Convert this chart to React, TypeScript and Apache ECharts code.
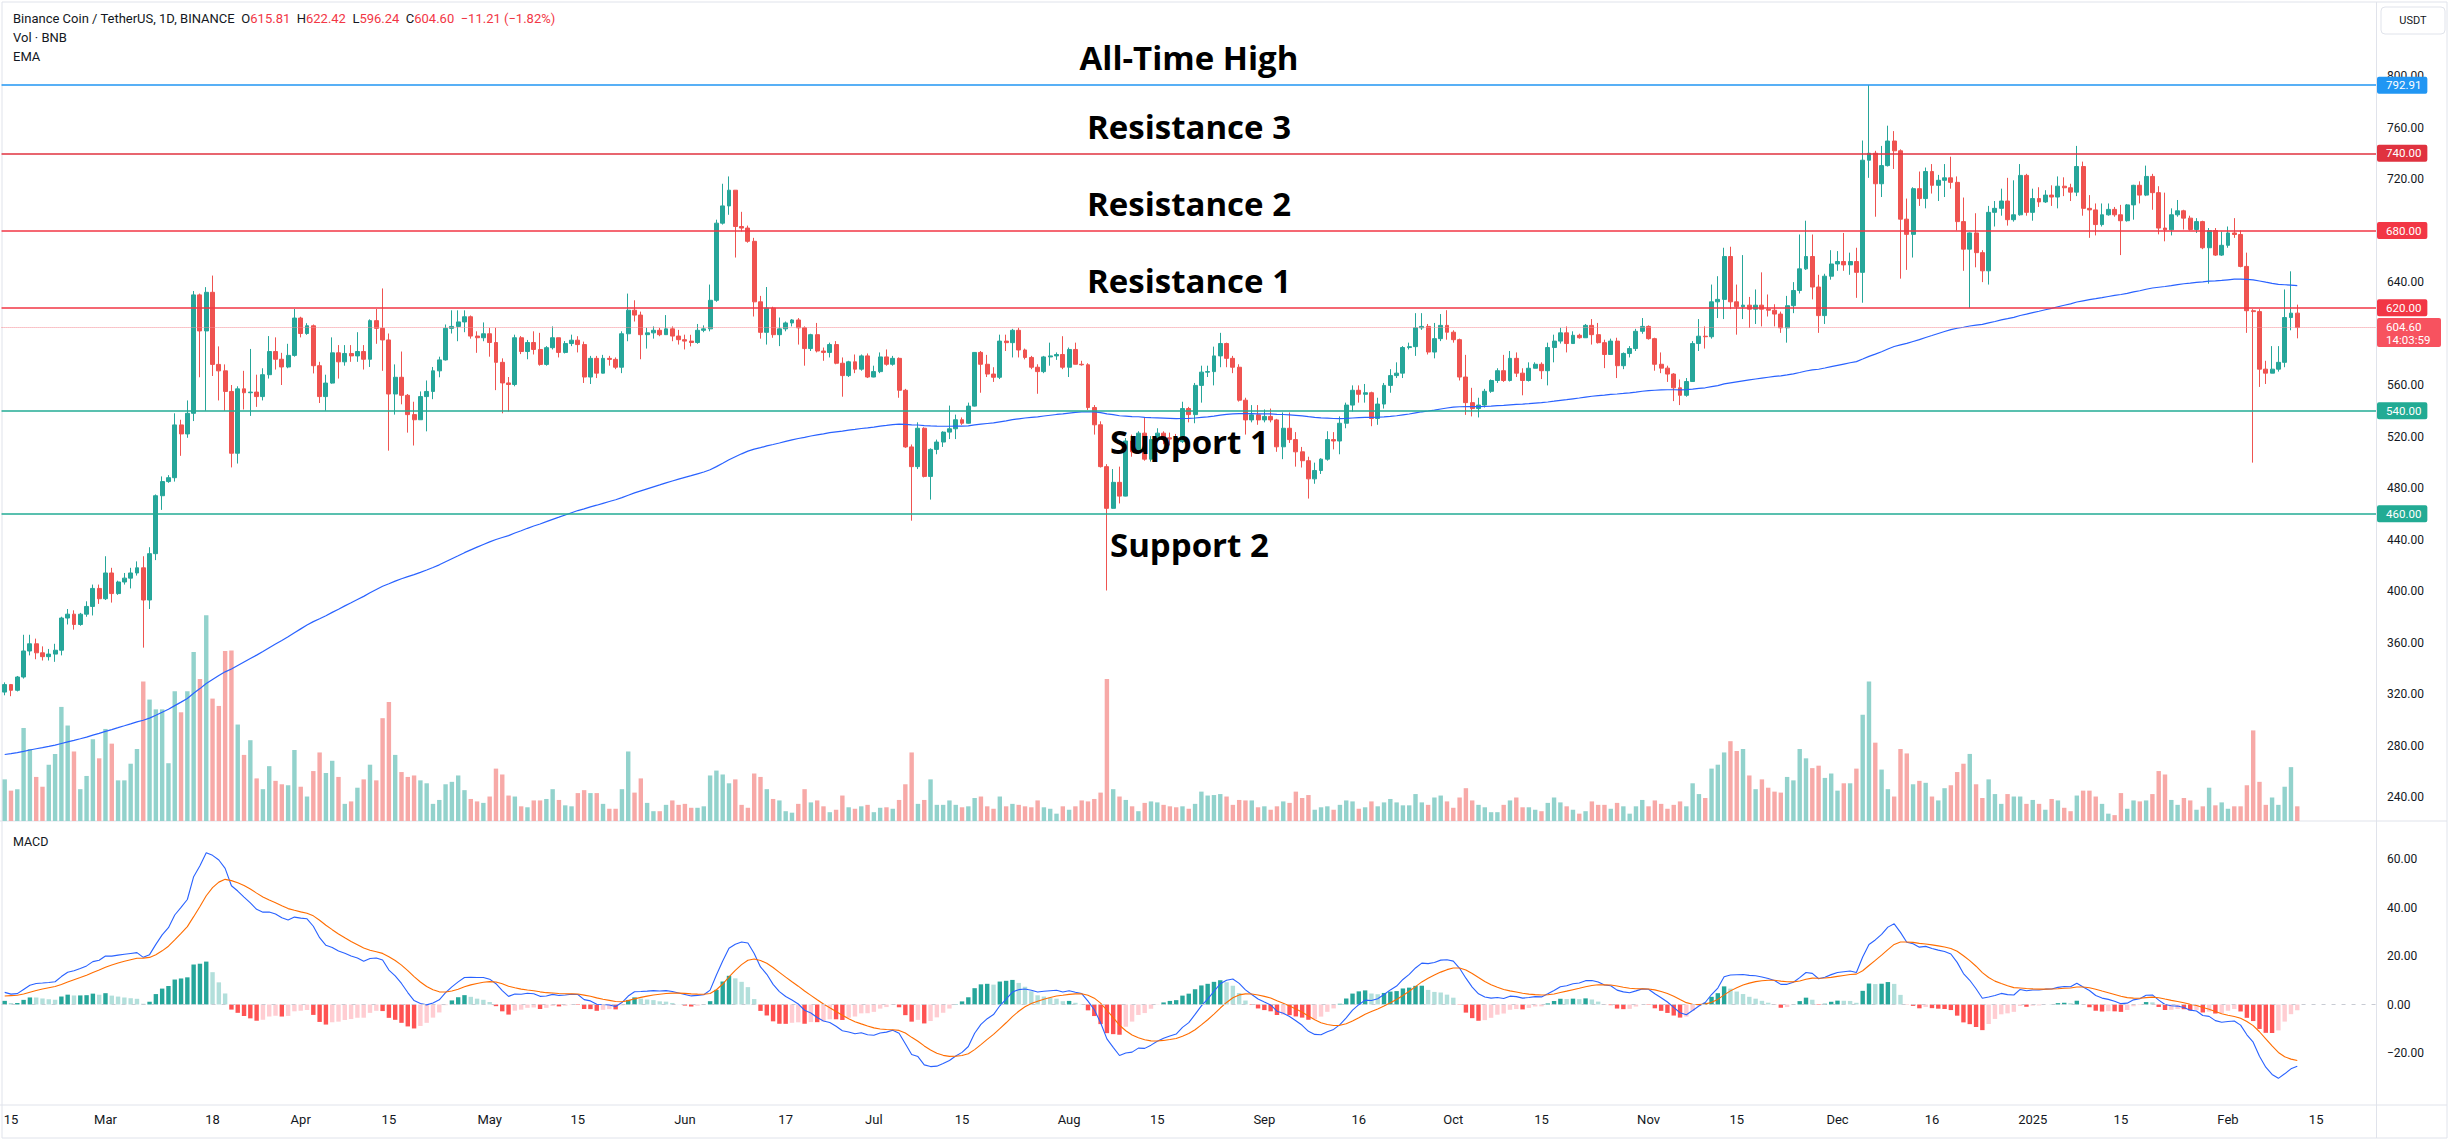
import React, { useEffect, useRef } from "react";
import * as echarts from "echarts";

// ---------------- DATA ----------------
const START_DATE_UTC = Date.UTC(2024, 1, 14); // first daily candle
const FUTURE_DAYS = 12; // empty space on the right of the last candle
const FIRST_OPEN = 321.5;

const closes: number[] = [
  327.3, 322.9, 333.2, 353.4, 359, 352, 349, 351, 354, 379, 382, 374, 382, 388, 402, 394, 414, 398, 407, 410,
  414, 418, 393, 429, 474, 485, 488, 529, 522, 538, 630, 602, 632, 576, 571, 555, 507, 557, 554, 554.5,
  551, 568, 586, 580, 574, 583, 612, 600, 606, 575, 551, 561.5, 585, 578, 584.5, 582.6, 586, 580, 610, 604,
  595, 553, 566, 552, 537, 533, 551, 555, 571, 579.5, 604, 605.5, 609, 613, 598, 596.7, 599.8, 593, 577.6, 561.6,
  560.4, 596.7, 586, 593, 587.6, 576, 589, 596.7, 585.3, 592.2, 594.8, 591.4, 566.2, 580.7, 569.2, 580.7, 579.9, 573.8, 599.8, 618.1,
  614.3, 599.1, 600.5, 602.5, 599.1, 603.6, 598, 595.2, 594.1, 593, 602.5, 603.6, 625.8, 685.7, 699.1, 711.3, 683.1, 681.9, 671.6, 624.6,
  600.9, 619.7, 599.1, 603.6, 608.2, 610.5, 604.4, 588.3, 599.1, 586.4, 585.3, 591.4, 576.9, 567.3, 578, 572.3, 582.6, 566.2, 570.4, 581.8,
  576.1, 580.7, 555.9, 511.9, 496.6, 526.4, 489, 510, 515.7, 523.4, 526, 533, 530.3, 543.6, 585.3, 576.1, 568.5, 566, 594.1, 592.9,
  602.5, 587.2, 581.4, 573.8, 570.4, 581.8, 582.6, 583.7, 573.8, 587.6, 576.1, 575.7, 542.5, 529.1, 496.6, 464.2, 484.4, 473.7, 516.5, 508.1,
  522.6, 502.4, 517.6, 522.6, 519, 518, 516, 541.7, 537, 559.7, 570, 570.4, 582.6, 592.2, 580.7, 573.8, 548.2, 532.9, 536.8, 532.9,
  535.6, 532.9, 512, 526.4, 517.6, 508.1, 501.2, 487.1, 493.6, 502.4, 517.6, 516.5, 530.3, 544.4, 555.9, 552.8, 554, 534, 545.2, 559.7,
  567.3, 569.2, 589.1, 589.8, 604.4, 605.5, 585.6, 596, 606.3, 601, 595.2, 566.2, 546.3, 541.7, 544.4, 555.1, 563.5, 571.1, 563.5, 580.7,
  569.2, 563.5, 573, 576.1, 571.1, 589.1, 594.1, 600.5, 592.2, 598.6, 596.7, 606.3, 599.1, 592.9, 583.7, 594.1, 575, 584.5, 588.3, 601.7,
  605.5, 596, 576.1, 573.1, 568.5, 557.8, 552, 562.7, 592.2, 597.9, 597.5, 624.6, 626.5, 659.8, 624.6, 620.8, 622, 618.9, 622, 618.9,
  618.1, 615.1, 604.4, 621.6, 633.4, 650.2, 659.8, 636.1, 613.9, 644.5, 654, 655.9, 653.3, 655.9, 647.5, 734.6, 740, 716.3, 730.4, 749.5,
  741.9, 688.8, 677, 712.5, 704.8, 725.8, 715.1, 719, 720.9, 717.4, 686.9, 665.5, 678.1, 662.8, 648.7, 694.1, 697.2, 702.9, 688.4, 692.2,
  722.8, 694.1, 704.8, 702.2, 707.5, 706, 714.4, 713.2, 709.8, 729.7, 697.2, 696, 684.6, 692.2, 696.4, 692.2, 687.6, 699.9, 715.1, 707.5,
  722, 709.4, 681.9, 680.5, 692.2, 695.3, 689.6, 680.8, 686.9, 666.6, 680, 660.9, 668.5, 678.1, 676.9, 652.1, 617.7, 617, 572.3, 569.2,
  572.3, 577.6, 612.4, 615.81, 604.6,
];

const highs: number[] = [
  329, 327.8, 334, 366, 366, 363, 357, 355, 359, 380, 386, 385, 383, 392, 405, 405, 427, 418, 408, 414,
  418, 423, 427, 434, 475, 489, 490, 538, 533, 548, 633, 631, 636, 645, 590, 576, 560, 559, 571, 588,
  568, 573, 598, 597, 585, 592, 619, 613, 608, 607, 578, 568, 597, 591, 591, 591, 601, 591, 611, 619,
  635, 600, 576, 586, 553, 547, 555, 563.5, 574, 582, 607, 618, 618, 618, 614, 601.7, 608.6, 604.4, 604.4, 580.7,
  566.2, 599.1, 598, 595, 601.7, 600.5, 590.2, 605.5, 596.7, 594.1, 599.1, 597.9, 593.7, 582.6, 582.6, 583.4, 582.6, 581.4, 601.7, 631,
  625.8, 617, 604.4, 605.5, 604.4, 614.3, 605.5, 602.8, 599.1, 599, 607.4, 606.3, 638, 688.4, 716.3, 722, 711.3, 694.5, 683.8, 674.3,
  629.2, 636.1, 620.8, 612.4, 609.3, 611.2, 612, 605.5, 599.8, 608.2, 589.1, 592.9, 594.1, 581.4, 578.8, 583.7, 583.7, 584.5, 575, 585.3,
  587.6, 582.6, 581.4, 557, 513.8, 531, 527.2, 510.8, 517.6, 524.1, 544, 537, 534.8, 546.3, 585.6, 586.4, 583.4, 573.8, 599.1, 599.1,
  603.6, 604.4, 588.3, 582.6, 576.1, 582.6, 592.9, 585.3, 597.9, 589.1, 592.9, 578.8, 576.9, 544.4, 531.8, 498.5, 494.7, 496.6, 518.8, 521.5,
  524.1, 534.8, 520.3, 526.4, 524, 523, 522, 547, 543, 561.6, 575, 575, 589.8, 600.5, 592.9, 582.6, 576.1, 550.1, 544.4, 544.4,
  541, 541.7, 533.7, 538.7, 538.7, 523.4, 511.9, 504.3, 499.7, 503.1, 524.1, 523.4, 535.6, 546.3, 559.7, 559.7, 560.8, 554.8, 550.1, 561.6,
  572.3, 577.6, 590.2, 592.9, 615.8, 615.8, 607.4, 608.2, 615.1, 618.1, 602.5, 596, 583.4, 557.8, 550.1, 557, 564.3, 573, 583.4, 586.4,
  585.3, 573, 577.6, 577.6, 577.6, 592.9, 599.1, 604.4, 605.5, 601.7, 599.8, 607.4, 611.2, 608.2, 595.2, 596, 596.7, 585.3, 590.2, 603.6,
  612, 606.3, 596.7, 585.3, 575, 569.2, 564.3, 565.4, 594.1, 611.2, 605.5, 638, 644.5, 666.6, 667.4, 638, 660.9, 628.4, 634.2, 647.5,
  630.3, 622.7, 617, 629.2, 639.9, 676.9, 687.6, 676.9, 645.6, 646.4, 664.7, 664, 678.1, 662.8, 666.6, 749.9, 792.91, 741.9, 745.7, 761.4,
  757.2, 743, 704.8, 713.6, 725.8, 728.9, 731.6, 723.2, 731.6, 737.3, 722, 705.6, 678.5, 693.4, 664.7, 699.1, 702.9, 712.5, 720.9, 719,
  731.6, 724, 712.5, 713.6, 711.3, 715.1, 722, 721.3, 716.3, 745.7, 733.5, 707.5, 701, 701, 701, 698.3, 699.9, 700.6, 715.5, 718.2,
  730.4, 724, 714.4, 709.4, 697.2, 703.7, 696.1, 691.5, 689.6, 687.6, 681.9, 681.9, 679.2, 683.1, 689.6, 680, 662.8, 618.9, 618.9, 578.8,
  590.2, 590.2, 634.2, 648.3, 622.42,
];

const lows: number[] = [
  319, 318.3, 322, 332, 350, 347, 346, 346, 345, 350, 374, 370, 373, 380, 381, 390, 393, 391, 397, 405,
  402, 412, 356, 386, 424, 463, 484, 485, 505, 519, 532, 566, 540, 567, 548, 540, 496, 499, 541, 536,
  543, 548, 565, 572, 560, 573, 582, 597, 599, 569, 546, 540, 561, 565, 575, 578, 578, 572, 574, 592,
  571, 509, 537, 545, 523, 513, 533, 524, 549, 566, 579, 600, 594, 601, 596, 585, 594, 582, 556, 538,
  539.4, 559, 584, 580, 583.7, 575, 575, 587.6, 581.4, 584.5, 590.2, 585.3, 561.6, 560.8, 565.4, 569, 575, 572.3, 569.2, 594,
  609.3, 580, 588.3, 596, 597.9, 599, 594, 591.4, 587.6, 590, 592, 601, 601.7, 624.6, 684.6, 692.2, 659, 679.2, 670.5, 613.2,
  596, 591.4, 596.7, 590.2, 601.7, 605.5, 591.4, 575, 586.4, 585.3, 578.8, 581.4, 576.1, 550.9, 566.2, 569.2, 571.1, 565.4, 566, 569.2,
  575, 575, 550.1, 511.2, 454.6, 494.7, 488.2, 471, 506.2, 511.9, 518, 518, 529, 530, 543.3, 554, 566.2, 562.4, 564.6, 586.4,
  581.4, 581.4, 579.9, 572.3, 553.2, 569.2, 575, 579.5, 572.3, 566.2, 576, 575, 540.6, 521.5, 495.9, 400.4, 464, 468, 473.5, 504.3,
  508, 501.2, 500.5, 515.7, 514, 513, 511, 515, 531, 530.3, 546.3, 566.2, 559.7, 573.8, 573.8, 569.2, 547.1, 521.5, 531, 529.1,
  531, 531, 508.1, 502.4, 515, 496.6, 495.9, 471.8, 483.3, 490.9, 501.2, 510, 506.2, 526.4, 539.4, 546.3, 546.3, 528, 529.1, 541.7,
  554, 565.4, 565.4, 587.6, 582.6, 602.8, 583.7, 580.7, 594.1, 595.2, 592.9, 563.5, 536.8, 535.6, 534.8, 542.5, 553.9, 561.6, 562.4, 562.7,
  566.2, 552, 562.7, 573, 564.6, 559.7, 577.6, 592.2, 585.3, 592.2, 596, 596.7, 591.4, 592.2, 573.1, 583.7, 565.4, 572.3, 581.4, 586.4,
  599.8, 595.2, 571.1, 569.2, 562.4, 547.5, 544.4, 550.9, 562.4, 586.4, 588.3, 596, 612, 611.2, 618.9, 599.1, 611.2, 604.4, 607.4, 605.5,
  613.2, 605.5, 600.5, 592.9, 615.8, 631.1, 649.4, 626.5, 600.5, 607.4, 641.8, 648.7, 648.7, 645.6, 627.7, 623.9, 720.9, 690.7, 706, 729.7,
  727.8, 642.6, 649.4, 659, 699.1, 697.2, 708.7, 702.9, 706, 712.5, 680, 648.7, 619.7, 651.4, 639.9, 638, 683.1, 691.5, 683.8, 686.9,
  691.5, 691.5, 687.6, 698.3, 701.4, 699.1, 697.2, 706.7, 702.9, 706.7, 691.5, 674.3, 676.2, 683.1, 691.5, 690.7, 660.9, 686.9, 688.4, 701,
  706.7, 696.1, 677, 671.6, 676.2, 690.7, 680.8, 680, 678.1, 665.5, 638.7, 660.2, 660.2, 666.6, 674.3, 651.4, 600.5, 499.7, 558.5, 560.8,
  569.2, 570.4, 573.8, 602.5, 596.24,
];

// daily volume (relative units)
const volumes: number[] = [
  85, 62, 65, 190, 147, 90, 70, 115, 137, 233, 195, 142, 65, 92, 167, 128, 188, 158, 83, 83,
  117, 147, 285, 248, 228, 228, 118, 265, 222, 265, 345, 290, 420, 250, 235, 347, 348, 197, 135, 165,
  87, 65, 112, 82, 75, 73, 145, 70, 50, 102, 140, 98, 123, 90, 35, 40, 68, 85, 115, 83,
  210, 243, 135, 100, 90, 93, 83, 77, 35, 43, 75, 80, 93, 63, 45, 40, 37, 50, 107, 95,
  52, 50, 30, 28, 42, 42, 45, 65, 43, 32, 30, 57, 63, 57, 57, 35, 25, 25, 65, 142,
  58, 87, 37, 20, 20, 33, 42, 33, 35, 27, 27, 30, 93, 103, 95, 77, 85, 33, 27, 97,
  90, 65, 45, 42, 20, 17, 35, 65, 38, 42, 30, 18, 23, 52, 28, 25, 30, 33, 18, 27,
  28, 25, 43, 75, 140, 35, 43, 85, 33, 33, 42, 33, 28, 30, 47, 50, 30, 25, 50, 30,
  35, 33, 30, 28, 42, 28, 25, 15, 30, 23, 30, 42, 40, 45, 58, 290, 65, 50, 43, 30,
  20, 37, 40, 38, 33, 30, 28, 30, 25, 35, 60, 52, 53, 55, 50, 33, 43, 42, 42, 28,
  30, 23, 30, 40, 37, 60, 47, 53, 23, 28, 30, 23, 33, 42, 40, 25, 28, 40, 30, 38,
  45, 38, 32, 32, 55, 38, 33, 48, 52, 40, 27, 48, 67, 42, 33, 28, 18, 18, 33, 42,
  48, 28, 28, 23, 20, 37, 48, 38, 30, 23, 15, 20, 40, 33, 33, 25, 37, 30, 15, 30,
  43, 30, 42, 35, 25, 33, 40, 30, 77, 55, 47, 107, 115, 140, 163, 143, 147, 93, 65, 85,
  68, 60, 58, 90, 83, 147, 128, 108, 113, 88, 97, 62, 77, 77, 107, 217, 285, 160, 105, 65,
  50, 147, 138, 75, 82, 78, 50, 42, 67, 73, 100, 117, 137, 75, 47, 85, 55, 35, 55, 50,
  50, 35, 43, 35, 23, 45, 42, 27, 20, 52, 62, 62, 50, 35, 15, 12, 57, 25, 42, 40,
  42, 55, 102, 95, 43, 33, 47, 42, 23, 30, 68, 32, 38, 25, 30, 30, 73, 185, 80, 33,
  48, 33, 70, 110, 30,
];

// horizontal levels drawn on the chart
const levelNames = ["All-Time High", "Resistance 3", "Resistance 2", "Resistance 1", "Support 1", "Support 2"];
const levelValues = [792.91, 740, 680, 620, 540, 460];
const levelColors = ["#2196f3", "#e0323f", "#f23645", "#f23645", "#22ab94", "#22ab94"];
const COUNTDOWN = "14:03:59";

// x-axis tick labels
const tickDates = [
  "2024-02-15", "2024-03-01", "2024-03-18", "2024-04-01", "2024-04-15", "2024-05-01", "2024-05-15", "2024-06-01",
  "2024-06-17", "2024-07-01", "2024-07-15", "2024-08-01", "2024-08-15", "2024-09-01", "2024-09-16", "2024-10-01",
  "2024-10-15", "2024-11-01", "2024-11-15", "2024-12-01", "2024-12-16", "2025-01-01", "2025-01-15", "2025-02-01", "2025-02-15",
];
const tickTexts = [
  "15", "Mar", "18", "Apr", "15", "May", "15", "Jun", "17", "Jul", "15", "Aug", "15", "Sep", "16", "Oct",
  "15", "Nov", "15", "Dec", "16", "2025", "15", "Feb", "15",
];

// indicator settings / starting values read at the first bar
const EMA_LENGTH = 155;
const EMA_START = 273;
const MACD_START = 5;
const SIGNAL_START = 3.5;

// ---------------- helpers ----------------
const UP = "#26a69a";
const DOWN = "#ef5350";
const VOL_UP = "#92d2cc";
const VOL_DOWN = "#f7a9a7";
const FONT = "Roboto, 'Noto Sans', sans-serif";
const TEXT = "#131722";

function emaSeries(values: number[], len: number, seed: number): number[] {
  const a = 2 / (len + 1);
  const out: number[] = [];
  let prev = seed;
  values.forEach((v, i) => {
    prev = i === 0 ? seed : a * v + (1 - a) * prev;
    out.push(prev);
  });
  return out;
}

const minus = (v: number, d = 2) => (v < 0 ? "\u2212" + Math.abs(v).toFixed(d) : v.toFixed(d));

export default function App() {
  const ref = useRef<HTMLDivElement>(null);

  useEffect(() => {
    if (!ref.current) return;
    const chart = echarts.init(ref.current, undefined, { renderer: "svg" });

    const n = closes.length;
    const opens = closes.map((c, i) => (i === 0 ? FIRST_OPEN : closes[i - 1]));
    const dates: string[] = [];
    for (let i = 0; i < n + FUTURE_DAYS; i++) {
      dates.push(new Date(START_DATE_UTC + i * 86400000).toISOString().slice(0, 10));
    }
    const tickMap: Record<string, string> = {};
    tickDates.forEach((d, i) => (tickMap[d] = tickTexts[i]));

    const candles = closes.map((c, i) => [opens[i], c, lows[i], highs[i]]);
    const ema = emaSeries(closes, EMA_LENGTH, EMA_START);

    const fast = emaSeries(closes, 12, closes[0]);
    const slow = emaSeries(closes, 26, closes[0] - MACD_START);
    const macd = fast.map((f, i) => f - slow[i]);
    const signal = emaSeries(macd, 9, SIGNAL_START);
    const hist = macd.map((m, i) => m - signal[i]);
    const histData = hist.map((h, i) => {
      const prev = i === 0 ? 0 : hist[i - 1];
      const color = h >= 0 ? (h > prev ? "#26a69a" : "#b2dfdb") : h > prev ? "#ffcdd2" : "#ff5252";
      return { value: +h.toFixed(3), itemStyle: { color } };
    });

    const volData = volumes.map((v, i) => ({
      value: v,
      itemStyle: { color: closes[i] >= opens[i] ? VOL_UP : VOL_DOWN },
    }));

    const last = n - 1;
    const lastClose = closes[last];
    const change = lastClose - opens[last];
    const pct = (change / opens[last]) * 100;

    const tag = (bg: string, text: string) => ({
      show: true,
      position: "end",
      distance: 1,
      formatter: text,
      backgroundColor: bg,
      color: "#ffffff",
      fontSize: 11.5,
      fontFamily: FONT,
      lineHeight: 13,
      padding: [2, 6, 2, 9],
      borderRadius: 2,
    });

    const levelLines: any[] = levelValues.map((v, i) => ({
      yAxis: v,
      lineStyle: { color: levelColors[i], width: 1.6, type: "solid" },
      label: tag(levelColors[i], v.toFixed(2)),
    }));
    levelLines.push({
      yAxis: lastClose,
      lineStyle: { color: "#f58c95", width: 1, type: "dotted" },
      label: { show: false },
    });

    // axis labels hidden behind the price tags (as TradingView does)
    const hiddenByTag = (v: number) =>
      levelValues.some((l) => Math.abs(l - v) < 5) || (v > lastClose - 16 && v < lastClose + 8);

    const annotationPos: [number, number, string][] = [
      [1189, 57, "center"],
      [1189, 126, "center"],
      [1189, 203, "center"],
      [1189, 280, "center"],
      [1110, 441, "left"],
      [1110, 544, "left"],
    ];

    const xAxisBase = (g: number) => ({
      type: "category",
      gridIndex: g,
      data: dates,
      boundaryGap: true,
      axisLine: { show: false },
      axisTick: { show: false },
      splitLine: { show: false },
      axisLabel: { show: false },
    });

    const option: any = {
      animation: false,
      backgroundColor: "#ffffff",
      title: [
        {
          left: 13,
          top: 12,
          padding: 0,
          text:
            "{t|Binance Coin / TetherUS, 1D, BINANCE}  {t|O}{v|" + opens[last].toFixed(2) +
            "}  {t|H}{v|" + highs[last].toFixed(2) + "}  {t|L}{v|" + lows[last].toFixed(2) +
            "}  {t|C}{v|" + lastClose.toFixed(2) + "}  {v|" + minus(change) + " (" + minus(pct) + "%)}",
          textStyle: {
            fontSize: 13,
            fontWeight: "normal",
            fontFamily: FONT,
            rich: {
              t: { color: TEXT, fontSize: 13, fontFamily: FONT },
              v: { color: "#f23645", fontSize: 13, fontFamily: FONT },
            },
          },
        },
        { left: 13, top: 31, padding: 0, text: "Vol \u00b7 BNB", textStyle: { fontSize: 13, fontWeight: "normal", color: TEXT, fontFamily: FONT } },
        { left: 13, top: 50, padding: 0, text: "EMA", textStyle: { fontSize: 13, fontWeight: "normal", color: TEXT, fontFamily: FONT } },
        { left: 13, top: 835, padding: 0, text: "MACD", textStyle: { fontSize: 12.5, fontWeight: "normal", color: TEXT, fontFamily: FONT } },
      ],
      grid: [
        { left: 1.55, right: 77, top: 24.5, height: 772.5 },
        { left: 1.55, right: 77, top: 561, height: 260 },
        { left: 1.55, right: 77, top: 810.5, height: 291 },
      ],
      xAxis: [
        xAxisBase(0),
        xAxisBase(1),
        {
          ...xAxisBase(2),
          axisLabel: {
            show: true,
            interval: (_idx: number, value: string) => value in tickMap,
            formatter: (value: string) => tickMap[value] || "",
            color: TEXT,
            fontSize: 13,
            fontFamily: FONT,
            margin: 11,
            hideOverlap: false,
          },
        },
      ],
      yAxis: [
        {
          gridIndex: 0,
          position: "right",
          min: 240,
          max: 840,
          interval: 40,
          splitLine: { show: false },
          axisLine: { show: false },
          axisTick: { show: false },
          axisLabel: {
            showMaxLabel: false,
            formatter: (v: number) => (hiddenByTag(v) ? "" : v.toFixed(2)),
            color: TEXT,
            fontSize: 12,
            fontFamily: FONT,
            margin: 11,
          },
        },
        { gridIndex: 1, min: 0, max: 531, show: false, splitLine: { show: false } },
        {
          gridIndex: 2,
          position: "right",
          min: -40,
          max: 80,
          interval: 20,
          splitLine: { show: false },
          axisLine: { show: false },
          axisTick: { show: false },
          axisLabel: {
            showMinLabel: false,
            showMaxLabel: false,
            formatter: (v: number) => minus(v),
            color: TEXT,
            fontSize: 12,
            fontFamily: FONT,
            margin: 11,
          },
        },
      ],
      graphic: [
        { id: "frame", type: "rect", shape: { x: 2, y: 2, width: 2445, height: 1136 }, style: { fill: "none", stroke: "#e0e3eb", lineWidth: 1 }, silent: true },
        { id: "sep1", type: "line", shape: { x1: 0, y1: 821, x2: 2447, y2: 821 }, style: { stroke: "#e0e3eb", lineWidth: 1 }, silent: true },
        { id: "sep2", type: "line", shape: { x1: 0, y1: 1105, x2: 2447, y2: 1105 }, style: { stroke: "#e0e3eb", lineWidth: 1 }, silent: true },
        { id: "sep3", type: "line", shape: { x1: 2376.5, y1: 2, x2: 2376.5, y2: 1138 }, style: { stroke: "#e0e3eb", lineWidth: 1 }, silent: true },
        { id: "usdtBox", type: "rect", shape: { x: 2381, y: 7, width: 64, height: 27, r: 4 }, style: { fill: "#ffffff", stroke: "#e0e3eb", lineWidth: 1 }, silent: true },
        {
          id: "usdtText",
          type: "text",
          x: 2413,
          y: 20.5,
          style: { text: "USDT", fill: TEXT, font: "11px " + FONT, textAlign: "center", textVerticalAlign: "middle", align: "center", verticalAlign: "middle" },
          silent: true,
        },
        ...levelNames.map((name, i) => ({
          id: "note" + i,
          type: "text",
          x: annotationPos[i][0],
          y: annotationPos[i][1],
          z: 50,
          style: {
            text: name,
            fill: "#000000",
            font: "bold 33px 'Open Sans', sans-serif",
            textAlign: annotationPos[i][2],
            align: annotationPos[i][2],
            textVerticalAlign: "middle",
            verticalAlign: "middle",
          },
          silent: true,
        })),
      ],
      series: [
        {
          name: "Volume",
          type: "bar",
          xAxisIndex: 1,
          yAxisIndex: 1,
          data: volData,
          barWidth: "70%",
          z: 1,
          silent: true,
        },
        {
          name: "BNBUSDT",
          type: "candlestick",
          xAxisIndex: 0,
          yAxisIndex: 0,
          data: candles,
          barWidth: "70%",
          z: 3,
          itemStyle: { color: UP, color0: DOWN, borderColor: UP, borderColor0: DOWN, borderWidth: 1 },
          markLine: {
            symbol: ["none", "none"],
            silent: true,
            animation: false,
            z: 10,
            data: levelLines,
          },
        },
        {
          name: "EMA",
          type: "line",
          xAxisIndex: 0,
          yAxisIndex: 0,
          data: ema.map((v) => +v.toFixed(2)),
          showSymbol: false,
          symbol: "none",
          lineStyle: { color: "#2962ff", width: 1.2 },
          z: 4,
          silent: true,
        },
        {
          name: "Histogram",
          type: "bar",
          xAxisIndex: 2,
          yAxisIndex: 2,
          data: histData,
          barWidth: "70%",
          z: 2,
          silent: true,
          markLine: {
            symbol: ["none", "none"],
            silent: true,
            label: { show: false },
            lineStyle: { color: "#c8cbd3", type: [4, 6], width: 1 },
            data: [{ yAxis: 0 }],
          },
        },
        {
          name: "MACD",
          type: "line",
          xAxisIndex: 2,
          yAxisIndex: 2,
          data: macd.map((v) => +v.toFixed(3)),
          showSymbol: false,
          symbol: "none",
          lineStyle: { color: "#2962ff", width: 1.1 },
          z: 4,
          silent: true,
        },
        {
          name: "Signal",
          type: "line",
          xAxisIndex: 2,
          yAxisIndex: 2,
          data: signal.map((v) => +v.toFixed(3)),
          showSymbol: false,
          symbol: "none",
          lineStyle: { color: "#ff6d00", width: 1.1 },
          z: 4,
          silent: true,
        },
      ],
    };

    chart.setOption(option);

    // current-price tag placed through the price axis scale
    const py = chart.convertToPixel({ yAxisIndex: 0 }, lastClose) as unknown as number;
    chart.setOption({
      graphic: [
        {
          id: "priceTag",
          type: "rect",
          z: 60,
          shape: { x: 2377, y: py - 9.5, width: 64, height: 29, r: 2 },
          style: { fill: "#f7525f" },
          silent: true,
        },
        {
          id: "priceTagText",
          type: "text",
          z: 61,
          x: 2386,
          y: py - 7,
          style: {
            text: lastClose.toFixed(2) + "\n" + COUNTDOWN,
            fill: "#ffffff",
            font: "11.5px " + FONT,
            lineHeight: 13,
            textAlign: "left",
            align: "left",
            textVerticalAlign: "top",
            verticalAlign: "top",
          },
          silent: true,
        },
      ],
    });

    return () => chart.dispose();
  }, []);

  return (
    <div
      ref={ref}
      style={{ position: "fixed", left: 0, top: 0, width: 2453, height: 1141, background: "#ffffff" }}
    />
  );
}
